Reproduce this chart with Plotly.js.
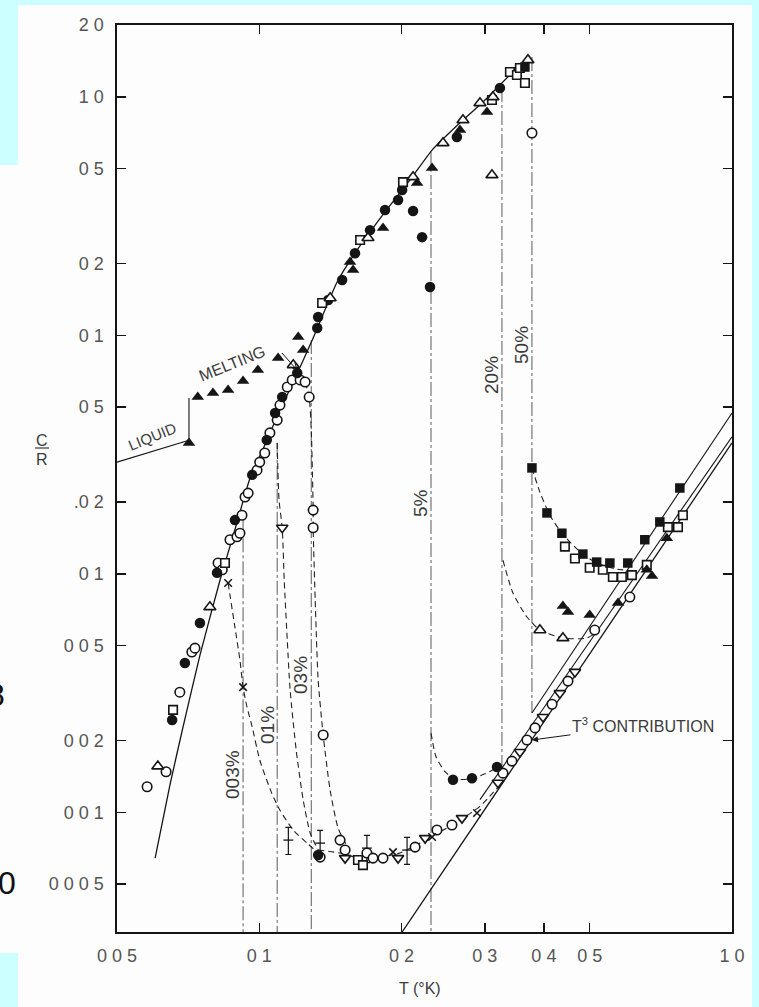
<!DOCTYPE html>
<html>
<head>
<meta charset="utf-8">
<script src="https://cdn.plot.ly/plotly-3.0.1.min.js"></script>
<style>
  html, body { margin: 0; padding: 0; background: #fdfdfd; }
  #chart { width: 759px; height: 1007px; }
</style>
</head>
<body>
<div id="chart"></div>
<script>
// ---- axes ----
const T_ticks = [0.05, 0.1, 0.2, 0.3, 0.4, 0.5, 1.0];
const T_tickText = ['0 0 5', '0 1', '0 2', '0 3', '0 4', '0 5', '1 0'];
const C_ticks = [2, 1, 0.5, 0.2, 0.1, 0.05, 0.02, 0.01, 0.005, 0.002, 0.001, 0.0005];
const C_tickText = ['2 0', '1 0', '0 5', '0 2', '0 1', '0 5', '.0 2', '0 1', '0 0 5', '0 0 2', '0 0 1', '0 0 0 5'];

// ---- measured points, grouped by symbol ----
const T_openCircle = [0.0579, 0.0635, 0.0679, 0.0720, 0.0731, 0.0818, 0.0835, 0.0867, 0.0897, 0.0910,
  0.0919, 0.0933, 0.0947, 0.0989, 0.1002, 0.1027, 0.1053, 0.1091, 0.1106, 0.1146,
  0.1174, 0.1220, 0.1250, 0.1275, 0.1300, 0.1300, 0.1365, 0.3774,
  0.1345, 0.1482, 0.1519, 0.1689, 0.1740, 0.1827, 0.2136, 0.2376, 0.2556, 0.3277,
  0.3423, 0.3683, 0.3831, 0.4162, 0.4498, 0.5123, 0.6080];
const C_openCircle = [0.00128, 0.00148, 0.00319, 0.00470, 0.00488, 0.0111, 0.0104, 0.0139, 0.0143, 0.0148,
  0.0176, 0.0210, 0.0218, 0.0272, 0.0294, 0.0321, 0.0390, 0.0441, 0.0510, 0.0607,
  0.0650, 0.0650, 0.0637, 0.0551, 0.0185, 0.0156, 0.00211, 0.705,
  0.000649, 0.000765, 0.000695, 0.000675, 0.000643, 0.000643, 0.000715, 0.000843, 0.000885, 0.00146,
  0.00164, 0.00201, 0.00226, 0.00284, 0.00355, 0.00581, 0.00799];

const T_filledCircle = [0.0654, 0.0696, 0.0749, 0.0814, 0.0888, 0.0966, 0.1037, 0.1080, 0.1118, 0.1203,
  0.1326, 0.1332, 0.1399, 0.1497, 0.1594, 0.1715, 0.1845, 0.1966, 0.2005, 0.2115,
  0.2210, 0.2297, 0.2618, 0.3229, 0.1332, 0.2569, 0.2818, 0.3183];
const C_filledCircle = [0.00244, 0.00423, 0.00622, 0.0101, 0.0168, 0.0260, 0.0364, 0.0472, 0.0551, 0.0695,
  0.1073, 0.1193, 0.1406, 0.1705, 0.221, 0.276, 0.335, 0.369, 0.407, 0.332,
  0.258, 0.1594, 0.678, 1.089, 0.000662, 0.00137, 0.00139, 0.00155];

const T_openSquare = [0.0657, 0.0846, 0.1358, 0.1634, 0.2014, 0.3106, 0.3390, 0.3507, 0.3559, 0.3647,
  0.1617, 0.1657, 0.4431, 0.4653, 0.5000, 0.5330, 0.5597, 0.5848, 0.6141, 0.6603,
  0.7317, 0.7686, 0.7872];
const C_openSquare = [0.00269, 0.0111, 0.1366, 0.251, 0.439, 0.970, 1.270, 1.234, 1.320, 1.143,
  0.000631, 0.000601, 0.0130, 0.0116, 0.0106, 0.0104, 0.00970, 0.00970, 0.00988, 0.0109,
  0.0157, 0.0157, 0.0176];

const T_filledSquare = [0.3647, 0.3774, 0.4060, 0.4366, 0.4837, 0.5173, 0.5516, 0.6019, 0.6539, 0.7036, 0.7756];
const C_filledSquare = [1.333, 0.0278, 0.0180, 0.0148, 0.0121, 0.0112, 0.0111, 0.0111, 0.0139, 0.0165, 0.0229];

const T_openTriangle = [0.0610, 0.0786, 0.1180, 0.1412, 0.1698, 0.2115, 0.2447, 0.2697, 0.2930, 0.3121,
  0.3701, 0.3106, 0.3923, 0.4388];
const C_openTriangle = [0.00156, 0.00726, 0.0751, 0.1433, 0.256, 0.461, 0.640, 0.799, 0.942, 0.998,
  1.426, 0.470, 0.00581, 0.00538];

const T_filledTriangle = [0.0710, 0.0741, 0.0798, 0.0859, 0.0924, 0.0993, 0.1096, 0.1209, 0.1238, 0.1556,
  0.1579, 0.1827, 0.2157, 0.2320, 0.2658, 0.3032, 0.4388, 0.4498, 0.5000, 0.5740,
  0.6603, 0.6773, 0.7281];
const C_filledTriangle = [0.0354, 0.0551, 0.0573, 0.0590, 0.0643, 0.0715, 0.0803, 0.0984, 0.0868, 0.203,
  0.188, 0.282, 0.435, 0.503, 0.726, 0.864, 0.00733, 0.00692, 0.00672, 0.00754,
  0.0104, 0.00979, 0.0141];

const T_downTriangle = [0.1118, 0.1519, 0.1966, 0.2243, 0.2684, 0.3198, 0.3559, 0.3982, 0.4324, 0.4653];
const C_downTriangle = [0.0156, 0.000643, 0.000643, 0.000780, 0.000946, 0.00133, 0.00179, 0.00251, 0.00316, 0.00388];

const T_cross = [0.0859, 0.0924, 0.1918, 0.2320, 0.2888];
const C_cross = [0.00915, 0.00335, 0.000681, 0.000788, 0.000993];

const T_withError = [0.1152, 0.1345, 0.1689, 0.2054];
const C_withError = [0.000765, 0.000743, 0.000708, 0.000695];
const errorPercent = 13;

// ---- drawn curves ----
const T_main = [0.0602, 0.0647, 0.0689, 0.0749, 0.0826, 0.0888, 0.0956, 0.1027, 0.1106, 0.1191,
  0.1300, 0.1461, 0.1594, 0.1845, 0.2084, 0.2320, 0.2697, 0.2973, 0.3390, 0.3737];
const C_main = [0.000643, 0.00130, 0.00226, 0.00456, 0.00942, 0.0153, 0.0252, 0.0347, 0.0486, 0.0662,
  0.0975, 0.1673, 0.221, 0.329, 0.448, 0.598, 0.799, 0.951, 1.234, 1.483];

const T_liquid = [0.0500, 0.0707];
const C_liquid = [0.0294, 0.0362];
const T_meltStep = [0.0710, 0.0710];
const C_meltStep = [0.0354, 0.0546];

// transition temperatures for each concentration, with the extent of each drop line
const concLabels = ['003%', '01%', '03%', '5%', '20%', '50%'];
const T_drop = [0.0924, 0.1091, 0.1288, 0.2308, 0.3261, 0.3774];
const C_dropTop = [0.0176, 0.0354, 0.0955, 0.587, 1.089, 1.468];
const C_dropBottom = [0.000315, 0.000315, 0.000315, 0.000315, 0.00150, 0.00261];

const T_d003 = [0.0859, 0.0888, 0.0910, 0.0924, 0.0942, 0.0966, 0.1002, 0.1063, 0.1106, 0.1180, 0.1262, 0.1326];
const C_d003 = [0.00915, 0.00598, 0.00435, 0.00335, 0.00276, 0.00228, 0.00166, 0.00120, 0.00102, 0.000843, 0.000743, 0.000681];
const T_d01 = [0.1091, 0.1101, 0.1118, 0.1129, 0.1146, 0.1162, 0.1197, 0.1238, 0.1281, 0.1332];
const C_d01 = [0.0354, 0.0204, 0.0156, 0.00942, 0.00528, 0.00326, 0.00182, 0.00113, 0.000819, 0.000695];
const T_d03 = [0.1250, 0.1275, 0.1288, 0.1300, 0.1300, 0.1313, 0.1332, 0.1365, 0.1412, 0.1468, 0.1541];
const C_d03 = [0.0637, 0.0551, 0.0401, 0.0185, 0.0156, 0.00777, 0.00359, 0.00211, 0.00124, 0.000859, 0.000708];
const T_dMin = [0.1332, 0.1482, 0.1634, 0.1801, 0.1985, 0.2188, 0.2411, 0.2658, 0.2930, 0.3229];
const C_dMin = [0.000695, 0.000675, 0.000643, 0.000649, 0.000675, 0.000743, 0.000827, 0.000928, 0.00106, 0.00130];
const T_d5 = [0.2308, 0.2365, 0.2471, 0.2594, 0.2790, 0.3002, 0.3229];
const C_d5 = [0.00215, 0.00171, 0.00148, 0.00138, 0.00138, 0.00145, 0.00156];
const T_d20 = [0.3277, 0.3440, 0.3683, 0.3923, 0.4388, 0.4932, 0.5254];
const C_d20 = [0.0114, 0.00831, 0.00659, 0.00581, 0.00538, 0.00538, 0.00581];
const T_d50 = [0.3774, 0.3923, 0.4119, 0.4366, 0.4723, 0.5123, 0.5655, 0.6172];
const C_d50 = [0.0278, 0.0220, 0.0176, 0.0148, 0.0126, 0.0112, 0.0105, 0.0103];

const T_t3 = [0.2005, 1.0];
const C_t3 = [0.000315, 0.0354];
const T_fitLow = [0.2930, 1.0];
const C_fitLow = [0.00113, 0.0375];
const T_fit50 = [0.3774, 1.0];
const C_fit50 = [0.00261, 0.0472];

// ---- page geometry ----
const W = 759, H = 1007;
const M = { l: 117, r: 27, t: 25, b: 75 };
const PW = W - M.l - M.r, PH = H - M.t - M.b;
const fx = p => (p - M.l) / PW;          // canvas px -> paper x
const fy = p => (H - M.b - p) / PH;      // canvas px -> paper y

const INK = '#151515';
const TEXT = '#3a3a3a';
const FONT = 'Liberation Sans, Arial, sans-serif';
const NARROW = 'Liberation Sans Narrow, Liberation Sans, sans-serif';

// drop lines joined into one trace, separated by gaps
const dropX = [], dropY = [];
T_drop.forEach((t, i) => { dropX.push(t, t, null); dropY.push(C_dropTop[i], C_dropBottom[i], null); });

function line(x, y, opts) {
  return Object.assign({ type: 'scatter', mode: 'lines', x, y, hoverinfo: 'skip',
    line: { color: INK, width: 1.2 } }, opts || {});
}
function dashed(x, y) {
  return line(x, y, { line: { color: '#222', width: 1.1, dash: '6px,4px', shape: 'spline', smoothing: 0.6 } });
}
function pts(x, y, marker) {
  return { type: 'scatter', mode: 'markers', x, y, marker, hoverinfo: 'x+y' };
}

const traces = [
  line(dropX, dropY, { line: { color: '#5a5a5a', width: 1, dash: '14px,3px,3px,3px' } }),
  line(T_liquid, C_liquid, { line: { color: INK, width: 1.1 } }),
  line(T_meltStep, C_meltStep, { line: { color: INK, width: 1.1 } }),
  line(T_main, C_main, { line: { color: INK, width: 1.3, shape: 'spline', smoothing: 0.5 } }),
  line(T_t3, C_t3, { line: { color: INK, width: 1.3 } }),
  line(T_fitLow, C_fitLow, { line: { color: INK, width: 1.1 } }),
  line(T_fit50, C_fit50, { line: { color: INK, width: 1.1 } }),
  dashed(T_d003, C_d003),
  dashed(T_d01, C_d01),
  dashed(T_d03, C_d03),
  dashed(T_dMin, C_dMin),
  dashed(T_d5, C_d5),
  dashed(T_d20, C_d20),
  dashed(T_d50, C_d50),
  Object.assign(pts(T_withError, C_withError, { symbol: 'line-ew', size: 7, color: INK, line: { color: INK, width: 1.3 } }),
    { error_y: { type: 'percent', value: errorPercent, color: INK, thickness: 1.2, width: 3 } }),
  pts(T_openCircle, C_openCircle, { symbol: 'circle', size: 9.5, color: '#fff', line: { color: INK, width: 1.6 } }),
  pts(T_filledCircle, C_filledCircle, { symbol: 'circle', size: 10.5, color: INK, line: { color: INK, width: 0 } }),
  pts(T_openSquare, C_openSquare, { symbol: 'square', size: 8.5, color: '#fff', line: { color: INK, width: 1.6 } }),
  pts(T_filledSquare, C_filledSquare, { symbol: 'square', size: 9.5, color: INK, line: { color: INK, width: 0 } }),
  pts(T_openTriangle, C_openTriangle, { symbol: 'triangle-up', size: 10.5, color: '#fff', line: { color: INK, width: 1.6 } }),
  pts(T_filledTriangle, C_filledTriangle, { symbol: 'triangle-up', size: 11, color: INK, line: { color: INK, width: 0 } }),
  pts(T_downTriangle, C_downTriangle, { symbol: 'triangle-down', size: 10, color: '#fff', line: { color: INK, width: 1.6 } }),
  pts(T_cross, C_cross, { symbol: 'x-thin', size: 7.5, color: INK, line: { color: INK, width: 1.5 } })
];

const CYAN = '#ccffff';
const rect = (x0, y0, x1, y1, color) => ({ type: 'rect', xref: 'paper', yref: 'paper', layer: 'below',
  x0: fx(x0), x1: fx(x1), y0: fy(y0), y1: fy(y1), fillcolor: color, line: { width: 0 } });
const seg = (x0, y0, x1, y1, color, width) => ({ type: 'line', xref: 'paper', yref: 'paper',
  x0: fx(x0), x1: fx(x1), y0: fy(y0), y1: fy(y1), line: { color, width } });

const shapes = [
  rect(0, 0, W, 5, CYAN),
  rect(0, 0, 18, 165, CYAN),
  rect(0, 953, 18, H, CYAN),
  rect(752, 0, W, H, CYAN),
  // fraction bar of the C/R axis label
  seg(35, 448, 49, 448, TEXT, 1.2),
  // small pointer from the MELTING label to the melting point
  seg(282, 353, 297, 370, INK, 1),
  seg(297, 370, 295, 363, INK, 1),
  seg(297, 370, 290.5, 367, INK, 1)
];

const label = (text, x, y, angle, size, extra) => Object.assign({
  xref: 'paper', yref: 'paper', x: fx(x), y: fy(y), text, showarrow: false, textangle: angle,
  xanchor: 'center', yanchor: 'middle', font: { family: FONT, size, color: TEXT }
}, extra || {});

const concPos = [[232, 775], [267, 725], [300, 675], [420, 503], [491, 375], [521, 345]];

const annotations = [
  label('C', 42, 440, 0, 16),
  label('R', 42, 459, 0, 16),
  label('T (°K)', 420, 988, 0, 16),
  label('LIQUID', 152, 436, -22, 15),
  label('MELTING', 232, 363, -22, 16),
  label('0', 7, 883, 0, 32, { font: { family: NARROW, size: 32, color: '#111' } }),
  label('8', -4, 695, 0, 32, { font: { family: NARROW, size: 32, color: '#111' } }),
  {
    xref: 'x', yref: 'y', x: Math.log10(0.3774), y: Math.log10(0.00201),
    text: 'T<sup>3</sup> CONTRIBUTION', showarrow: true, arrowhead: 2, arrowsize: 1.2, arrowwidth: 1,
    arrowcolor: INK, ax: 111, ay: -15, font: { family: FONT, size: 16, color: TEXT }
  }
].concat(concLabels.map((t, i) => label(t, concPos[i][0], concPos[i][1], -90, 19)));

const axisCommon = {
  type: 'log', ticks: 'inside', ticklen: 9, tickwidth: 1.4, tickcolor: INK,
  showline: true, linecolor: INK, linewidth: 1.6, mirror: 'ticks',
  showgrid: false, zeroline: false, tickfont: { family: FONT, size: 18, color: '#555' }
};

const layout = {
  width: W, height: H, margin: M, showlegend: false,
  paper_bgcolor: '#fdfdfd', plot_bgcolor: '#fdfdfd',
  xaxis: Object.assign({}, axisCommon, {
    range: [Math.log10(0.05), 0], tickvals: T_ticks, ticktext: T_tickText, tickmode: 'array',
    ticklabelstandoff: 7
  }),
  yaxis: Object.assign({}, axisCommon, {
    range: [Math.log10(0.000315), Math.log10(2)], tickvals: C_ticks, ticktext: C_tickText, tickmode: 'array',
    ticklabelstandoff: 8
  }),
  shapes, annotations
};

Plotly.newPlot('chart', traces, layout, { displayModeBar: false, staticPlot: true });
</script>
</body>
</html>
